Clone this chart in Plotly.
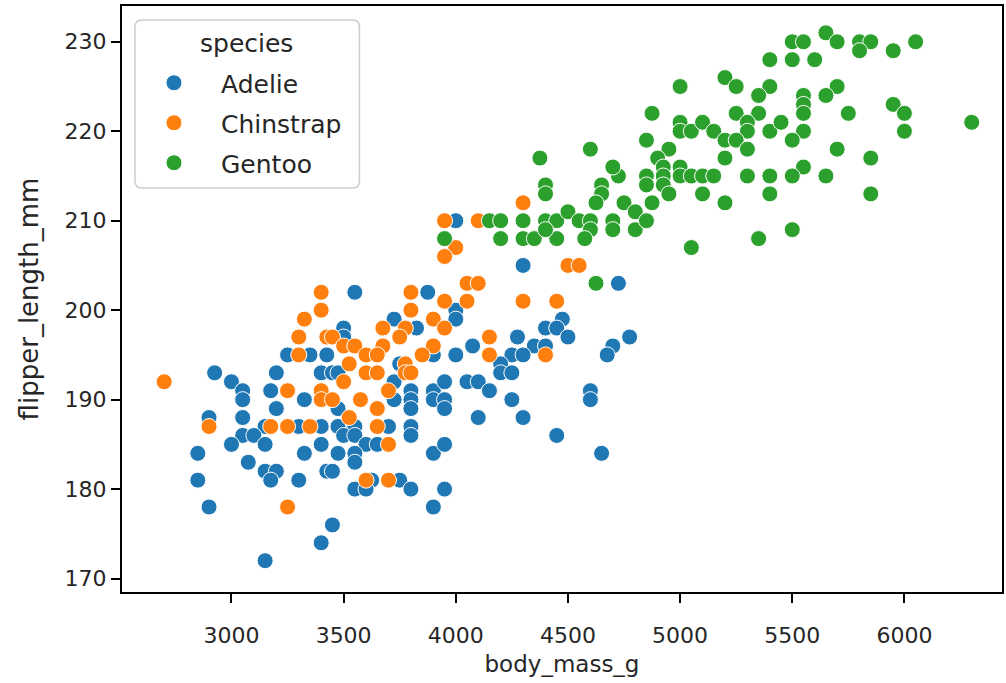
import plotly.graph_objects as go

species = ["Adelie", "Chinstrap", "Gentoo"]
colors = ["#1f77b4", "#ff7f0e", "#2ca02c"]

adelie_mass = [3250, 3350, 3425, 2925, 3000, 3050, 3050, 3200, 3400, 3175, 3325, 3200, 2900, 3050,
               3150, 3300, 3400, 3050, 3100, 3000, 3150, 2850, 3325, 3400, 3075, 3150, 3200, 3175, 3300, 2850, 3425, 2900, 3450, 3400, 3150,
               3550, 3875, 4000, 4000, 3725, 3825, 3500, 3500, 4075, 4000, 3900, 3450, 3750, 3725, 3475, 3800, 3800, 3800, 3900, 3900, 3950, 3950, 3950, 4050, 4100, 4150, 4100, 3725, 3475,
               3700, 3800, 3475, 3550, 3500, 3550, 3800, 3600, 3650, 3475, 3550, 3550, 3450, 3900, 3950, 3625, 3750, 3550, 3600, 3800, 3950, 3900,
               4300, 4725, 4475, 4400, 4450, 4500, 4275, 4350, 4400, 4250, 4300, 4200, 4200, 4250, 4775, 4700, 4675, 4150, 4250, 4600, 4600, 4300, 4450, 4650, 4000]
adelie_flipper = [195, 195, 195, 193, 192, 191, 190, 193, 193, 191, 190, 189, 188, 188,
                  187, 187, 187, 186, 186, 185, 185, 184, 184, 185, 183, 182, 182, 181, 181, 181, 182, 178, 176, 174, 172,
                  202, 202, 200, 199, 199, 198, 198, 197, 196, 195, 195, 193, 194, 192, 193, 191, 190, 189, 191, 190, 190, 189, 192, 192, 192, 191, 188, 190, 189,
                  187, 187, 187, 187, 186, 186, 186, 185, 185, 184, 184, 183, 182, 184, 185, 181, 181, 180, 180, 180, 180, 178,
                  205, 203, 199, 198, 198, 197, 197, 196, 196, 195, 195, 194, 193, 193, 197, 196, 195, 191, 190, 191, 190, 188, 186, 184, 210]

chinstrap_mass = [3400, 3400, 3325, 3300, 3425, 3300, 2700, 3250, 3400, 3400, 2900, 3175, 3250, 3350, 3250,
                  3800, 4050, 4100, 3800, 3950, 4050, 3675, 3775, 3750, 3900, 3950, 3450, 3500, 3550, 3675, 3900,
                  4150, 4150, 3850, 3600, 3650, 3525, 3600, 3650, 3775, 3775, 3800, 3500, 3700, 3575, 3650, 3450,
                  3525, 3650, 3700, 3600, 3700, 4300, 4450, 4500, 4550, 4400, 3950, 4100, 4300, 4000, 3950]
chinstrap_flipper = [202, 200, 199, 197, 197, 195, 192, 191, 191, 190, 187, 187, 187, 187, 178,
                     202, 203, 203, 200, 201, 201, 198, 198, 197, 199, 198, 197, 196, 196, 196, 196,
                     197, 195, 195, 195, 195, 194, 193, 193, 194, 193, 193, 192, 191, 190, 189, 190,
                     188, 187, 185, 181, 181, 201, 201, 205, 205, 195, 210, 210, 212, 207, 206]

gentoo_mass = [4625, 3950, 4150, 4200, 4300, 4400, 4400, 4400, 4450, 4500, 4550, 4600, 4600, 4650, 4650, 4625, 4700, 4700, 4750, 4725, 4700, 4800, 4800, 4200, 4300, 4350, 4450, 4575, 4400,
               5500, 5550, 5400, 5500, 5600, 5000, 5200, 5250, 5400, 5350, 5550, 5550, 5550, 4875, 5250, 5350, 5000, 5000, 5050, 5100, 5150, 5300, 5300, 5400, 5450, 5550, 5500, 4850, 4950, 4900, 4925, 5000, 5200, 5250, 5300, 5200, 5550,
               4850, 4925, 5000, 5050, 5100, 5150, 5300, 5400, 5500, 4850, 4925, 4950, 5100, 5400, 4875, 5200, 4850, 5050, 5350, 5500,
               5650, 5700, 5800, 5850, 5800, 5950, 6050, 5700, 5650, 5750, 5950, 6000, 6000, 6300, 5700, 5850, 5650, 5850, 4375, 4600]
gentoo_flipper = [203, 208, 210, 210, 210, 214, 213, 210, 210, 211, 210, 210, 209, 214, 213, 212, 210, 209, 212, 215, 216, 211, 209, 208, 208, 208, 208, 208, 209,
                  230, 230, 228, 228, 228, 225, 226, 225, 225, 224, 224, 223, 222, 222, 222, 222, 221, 220, 220, 221, 220, 221, 220, 220, 221, 220, 219, 219, 218, 217, 216, 216, 219, 219, 218, 217, 216,
                  215, 215, 215, 215, 215, 215, 215, 215, 215, 214, 214, 213, 213, 213, 212, 212, 210, 207, 208, 209,
                  231, 230, 230, 230, 229, 229, 230, 225, 224, 222, 223, 222, 220, 221, 218, 217, 215, 213, 217, 218]

x_ticks = [3000, 3500, 4000, 4500, 5000, 5500, 6000]
y_ticks = [170, 180, 190, 200, 210, 220, 230]

masses = [adelie_mass, chinstrap_mass, gentoo_mass]
flippers = [adelie_flipper, chinstrap_flipper, gentoo_flipper]

FONT = "DejaVu Sans"
TXT = "#262626"
fig = go.Figure()
for name, col, xs, ys in zip(species, colors, masses, flippers):
    fig.add_trace(go.Scatter(
        x=xs, y=ys, mode="markers", name=name, legendgroup=name,
        marker=dict(color=col, size=16, line=dict(color="white", width=1)),
    ))

W, H = 1006, 683
L, R, T, B = 122, 2, 6, 91
PW, PH = W - L - R, H - T - B


def px_x(p):
    return (p - L) / PW


def px_y(p):
    return 1 - (p - T) / PH


fig.update_layout(
    width=W, height=H,
    margin=dict(l=L, r=R, t=T, b=B),
    paper_bgcolor="white", plot_bgcolor="white",
    font=dict(family=FONT, size=22, color=TXT),
    showlegend=True,
    legend=dict(
        x=px_x(127), y=px_y(60),
        xanchor="left", yanchor="top",
        bgcolor="rgba(0,0,0,0)", borderwidth=0,
        font=dict(size=25, color=TXT), tracegroupgap=4.5, itemwidth=84,
    ),
)
fig.add_annotation(text="species", x=px_x(247), y=px_y(44), xref="paper", yref="paper",
                   showarrow=False, xanchor="center", yanchor="middle",
                   font=dict(size=25, color=TXT))
fig.update_xaxes(
    range=[2512, 6435], tickvals=x_ticks, ticktext=[str(v) for v in x_ticks],
    showgrid=False, zeroline=False, showline=True, linecolor="black", linewidth=2, mirror=True,
    ticks="outside", ticklen=9, tickwidth=2, tickcolor="black", ticklabelstandoff=14,
    tickfont=dict(size=22), title=dict(text="body_mass_g", font=dict(size=23), standoff=8),
)
fig.update_yaxes(
    range=[168.5, 234.0], tickvals=y_ticks, ticktext=[str(v) for v in y_ticks],
    showgrid=False, zeroline=False, showline=True, linecolor="black", linewidth=2, mirror=True,
    ticks="outside", ticklen=9, tickwidth=2, tickcolor="black",
    tickfont=dict(size=22), title=dict(text="flipper_length_mm", font=dict(size=26), standoff=18),
)
# rounded legend frame (matplotlib style)
x0, x1 = px_x(135), px_x(360)
y1, y0 = px_y(20), px_y(188)
r = 0.008
ry = r * PW / PH
path = (f"M {x0+r},{y0} L {x1-r},{y0} Q {x1},{y0} {x1},{y0+ry} L {x1},{y1-ry} Q {x1},{y1} {x1-r},{y1} "
        f"L {x0+r},{y1} Q {x0},{y1} {x0},{y1-ry} L {x0},{y0+ry} Q {x0},{y0} {x0+r},{y0} Z")
fig.add_shape(type="path", path=path, xref="paper", yref="paper", layer="above",
              fillcolor="rgba(255,255,255,0.8)", line=dict(color="#cccccc", width=1.5))

fig.write_html("out.html")
